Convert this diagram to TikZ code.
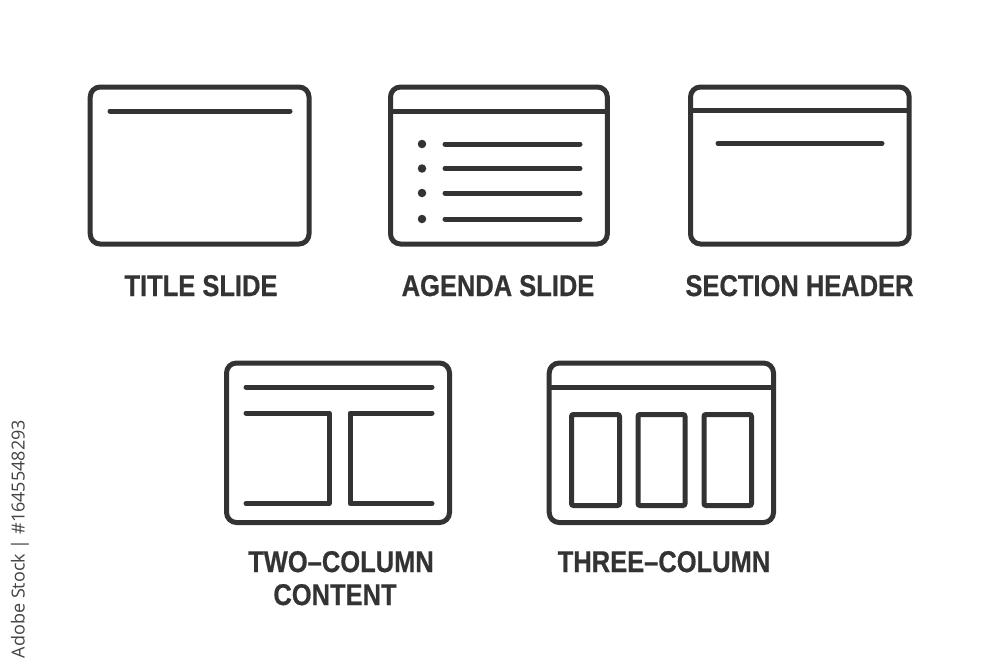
\documentclass[tikz,border=0pt]{standalone}
\usepackage{fontspec}
\setmainfont{Liberation Sans}
\newfontfamily\lblfont[FakeBold=0.6]{Liberation Sans Bold}
\newfontfamily\wmfont{Open Sans}
\definecolor{ink}{HTML}{333333}
\definecolor{wmgray}{HTML}{444444}
\begin{document}
\begin{tikzpicture}[x=1pt,y=-1pt,
  frame/.style={draw=ink,line width=5pt,rounded corners=10pt},
  bar/.style={draw=ink,line width=5pt,line cap=round,line join=round},
  sep/.style={draw=ink,line width=5pt},
  colbox/.style={draw=ink,line width=5pt,rounded corners=2pt},
  dot/.style={circle,fill=ink,inner sep=0pt,minimum size=8.5pt},
  lbl/.style={text=ink,font=\lblfont\fontsize{30}{34}\selectfont,anchor=base,inner sep=0pt,xscale=0.85}]
\useasboundingbox (0,0) rectangle (1000,667);
\fill[white] (0,0) rectangle (1000,667);

% Title slide
\draw[frame] (90.2,87) rectangle (309,244);
\draw[bar] (110,111) -- (290,111);
\node[lbl] (t1) at (201,296) {TITLE SLIDE};

% Agenda slide
\draw[frame] (390.5,87) rectangle (607.3,244);
\draw[sep] (390.5,111) -- (607.3,111);
\foreach \yy in {144,168.5,193,219}{
  \node[dot] at (422,\yy) {};
  \draw[bar] (445,\yy) -- (580,\yy);
}
\node[lbl] (t2) at (498,296) {AGENDA SLIDE};

% Section header
\draw[frame] (690.5,87) rectangle (909.2,244);
\draw[sep] (690.5,110.5) -- (909.2,110.5);
\draw[bar] (718,143.3) -- (882,143.3);
\node[lbl] (t3) at (799.5,296) {SECTION HEADER};

% Two-column content
\draw[frame] (226.5,363) rectangle (449.5,522.5);
\draw[bar] (246,387) -- (432,387);
\draw[bar] (246,413) -- (329,413) -- (329,503.5) -- (246,503.5);
\draw[bar] (432,413) -- (350,413) -- (350,503.5) -- (432,503.5);
\node[lbl] (t4) at (341,572) {TWO–COLUMN};
\node[lbl] (t5) at (335,605) {CONTENT};

% Three-column
\draw[frame] (549.2,363) rectangle (773.5,522.5);
\draw[sep] (549.2,387) -- (773.5,387);
\draw[colbox] (571.5,414.5) rectangle (619.5,505.5);
\draw[colbox] (638,414.5) rectangle (685,505.5);
\draw[colbox] (704,414.5) rectangle (751.5,505.5);
\node[lbl] (t6) at (664,572) {THREE–COLUMN};

% Vertical stock id
\node[rotate=90,text=wmgray,font=\wmfont\fontsize{18}{20}\selectfont,inner sep=0pt] (id) at (20,539) {Adobe Stock | \#1645548293};
\end{tikzpicture}
\end{document}
